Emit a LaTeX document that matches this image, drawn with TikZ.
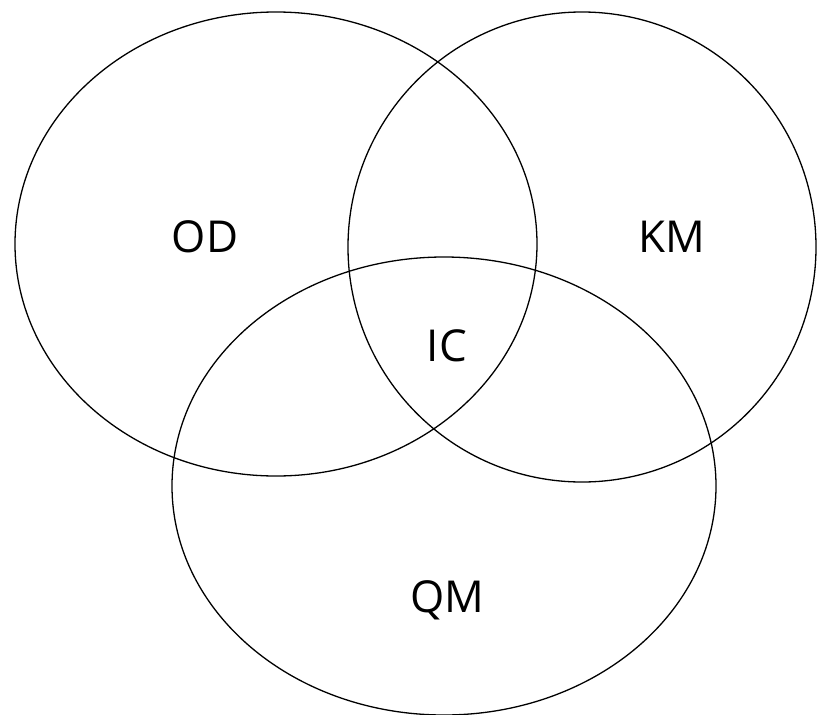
\documentclass[tikz,border=0pt]{standalone}
\usepackage{fontspec}
\setmainfont{Open Sans}
\begin{document}
\begin{tikzpicture}[x=1pt,y=-1pt,
  setring/.style={draw=black,line width=1.3pt},
  setlabel/.style={font=\fontsize{44}{48}\selectfont,inner sep=0pt}]
\useasboundingbox (0,0) rectangle (817,715);
\draw[setring] (276,244) ellipse [x radius=261,y radius=232];
\draw[setring] (582,247) ellipse [x radius=234,y radius=235];
\draw[setring] (444,486) ellipse [x radius=272,y radius=229];
\node[setlabel] (od) at (205,237) {OD};
\node[setlabel] (km) at (672,237) {KM};
\node[setlabel] (ic) at (447,346) {IC};
\node[setlabel] (qm) at (447,600) {QM};
\end{tikzpicture}
\end{document}
